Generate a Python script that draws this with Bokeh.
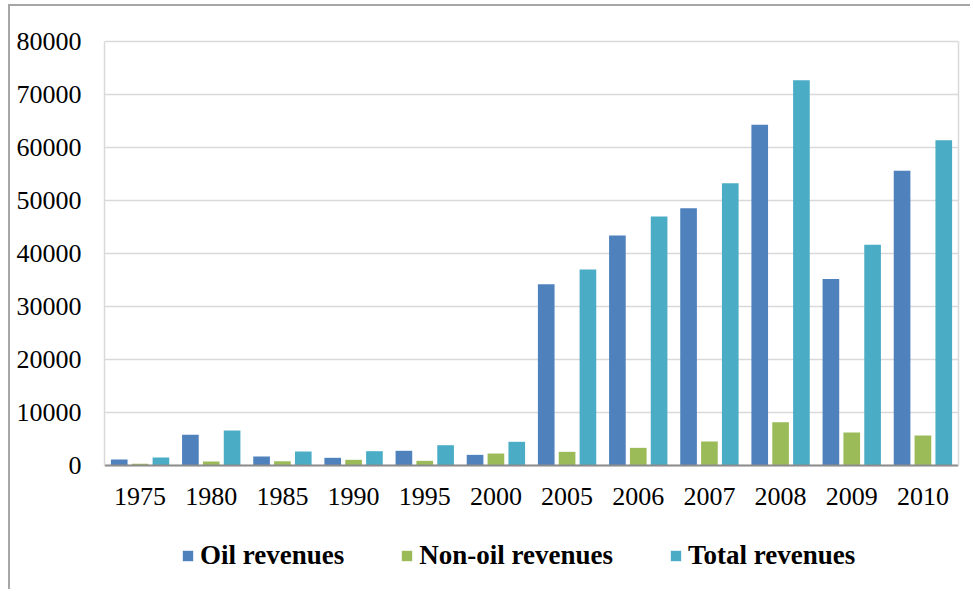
from bokeh.plotting import figure
from bokeh.models import (FactorRange, FixedTicker, Legend, LegendItem,
                          ColumnDataSource, Range1d, LinearAxis)
from bokeh.transform import dodge
from bokeh.embed import file_html
from bokeh.resources import INLINE

years = ["1975", "1980", "1985", "1990", "1995", "2000",
         "2005", "2006", "2007", "2008", "2009", "2010"]
oil_revenues = [1150, 5800, 1700, 1450, 2770, 2010,
                34200, 43400, 48550, 64300, 35200, 55600]
non_oil_revenues = [350, 750, 800, 1070, 880, 2260,
                    2580, 3330, 4530, 8180, 6230, 5660]
total_revenues = [1500, 6600, 2640, 2700, 3830, 4470,
                  37000, 47000, 53260, 72700, 41640, 61380]
y_ticks = [0, 10000, 20000, 30000, 40000, 50000, 60000, 70000, 80000]
series_names = ["Oil revenues", "Non-oil revenues", "Total revenues"]
colors = ["#4f81bd", "#9bbb59", "#4bacc6"]

y_max = 80000
# the frame extends beyond the value axis to leave room for labels and legend
frame_top_px, top_tick_px, zero_px, frame_bottom_px = 38, 41, 465, 591
scale = (zero_px - top_tick_px) / y_max
y_end = y_max + (top_tick_px - frame_top_px) / scale
y_start = -(frame_bottom_px - zero_px) / scale

source = ColumnDataSource(dict(year=years, oil=oil_revenues,
                               nonoil=non_oil_revenues, total=total_revenues))

p = figure(x_range=FactorRange(*years), y_range=Range1d(y_start, y_end),
           width=962, height=585, output_backend="svg", toolbar_location=None,
           min_border_left=94, min_border_right=14, min_border_top=32,
           min_border_bottom=0)
p.styles = {"margin-left": "8px", "margin-top": "4px",
            "border-left": "2px solid #a6a6a6", "border-top": "2px solid #a6a6a6"}

bw = 0.234
off = 0.293
r1 = p.vbar(x=dodge("year", -off, range=p.x_range), top="oil", width=bw,
            source=source, color=colors[0], line_color=None)
r2 = p.vbar(x=dodge("year", 0.0, range=p.x_range), top="nonoil", width=bw,
            source=source, color=colors[1], line_color=None)
r3 = p.vbar(x=dodge("year", off, range=p.x_range), top="total", width=bw,
            source=source, color=colors[2], line_color=None)

p.outline_line_color = None
p.xgrid.grid_line_color = None
p.ygrid.grid_line_color = "#d9d9d9"
p.ygrid.grid_line_width = 1.5

p.yaxis.ticker = FixedTicker(ticks=y_ticks)
p.yaxis.bounds = (0, y_max)
p.yaxis.axis_line_color = "#d9d9d9"
p.yaxis.axis_line_width = 1.5
p.yaxis.major_tick_line_color = None
p.yaxis.minor_tick_line_color = None
p.yaxis.major_tick_out = 0
p.yaxis.major_label_standoff = 23
p.yaxis.major_label_text_font = "Liberation Serif"
p.yaxis.major_label_text_font_size = "26px"
p.yaxis.major_label_text_color = "black"

right_axis = LinearAxis(ticker=FixedTicker(ticks=[]), bounds=(0, y_max),
                        axis_line_color="#d9d9d9", axis_line_width=1.5,
                        major_tick_line_color=None, minor_tick_line_color=None,
                        major_tick_out=0, major_label_standoff=0)
p.add_layout(right_axis, "right")

p.xaxis.fixed_location = 0
p.xaxis.axis_line_color = "#8c8c8c"
p.xaxis.axis_line_width = 2
p.xaxis.major_tick_line_color = None
p.xaxis.major_tick_out = 0
p.xaxis.major_label_standoff = 22
p.xaxis.major_label_text_font = "Liberation Serif"
p.xaxis.major_label_text_font_size = "26px"
p.xaxis.major_label_text_color = "black"

legend = Legend(items=[LegendItem(label=series_names[0], renderers=[r1]),
                       LegendItem(label=series_names[1], renderers=[r2]),
                       LegendItem(label=series_names[2], renderers=[r3])],
                orientation="horizontal", location=(77, 20),
                label_text_font="Liberation Serif", label_text_font_style="bold",
                label_text_font_size="27px", label_text_color="black",
                glyph_width=13, glyph_height=13, label_standoff=6, spacing=56,
                padding=0, margin=0, border_line_color=None,
                background_fill_alpha=0)
p.add_layout(legend)

open("out.html", "w").write(file_html(p, INLINE))
